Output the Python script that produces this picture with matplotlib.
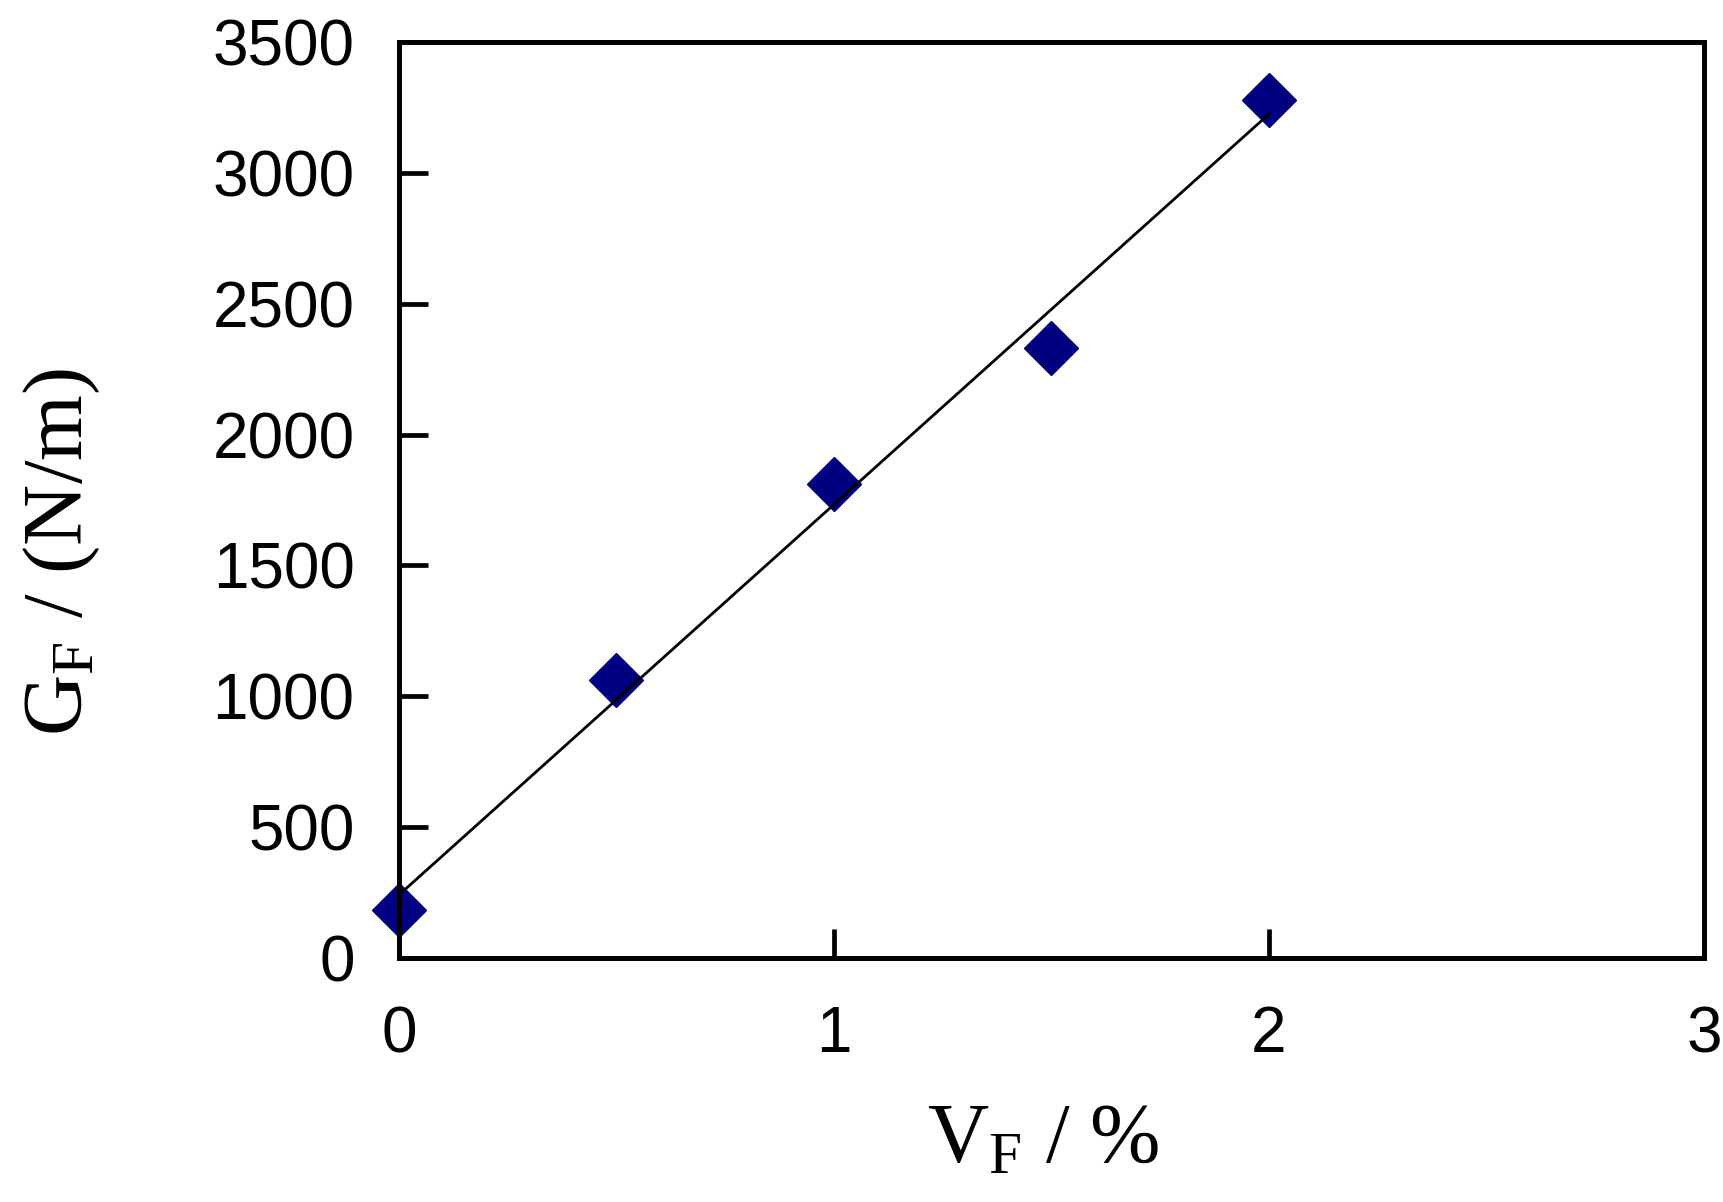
import numpy as np
import matplotlib.pyplot as plt

plt.rcParams['mathtext.fontset'] = 'custom'
plt.rcParams['mathtext.rm'] = 'Liberation Serif'
plt.rcParams['mathtext.it'] = 'Liberation Serif:italic'

vf = np.array([0.0, 0.5, 1.0, 1.5, 2.0])
gf = np.array([183, 1062, 1811, 2331, 3278])

xticks = [0, 1, 2, 3]
yticks = [0, 500, 1000, 1500, 2000, 2500, 3000, 3500]

fig = plt.figure(figsize=(17.24, 12.02), dpi=100)
ax = fig.add_axes([399 / 1724, 1 - 958 / 1202, 1305 / 1724, 916 / 1202])

ax.plot(vf, gf, linestyle='none', marker='D', markersize=27,
        color='#000080', clip_on=False, zorder=2)

# least squares line through the points
k, b = np.polyfit(vf, gf, 1)
xl = np.array([vf[0], vf[-1]])
ax.plot(xl, k * xl + b, color='black', linewidth=2, zorder=3)

ax.set_xlim(0, 3)
ax.set_ylim(0, 3500)
ax.set_xticks(xticks)
ax.set_yticks(yticks)

for s in ax.spines.values():
    s.set_linewidth(3.6)

ax.tick_params(axis='both', direction='in', length=21, width=3.4,
               labelsize=46, top=False, right=False)
ax.tick_params(axis='x', pad=34)
ax.tick_params(axis='y', pad=32)
for lab in ax.get_xticklabels() + ax.get_yticklabels():
    lab.set_family('Liberation Sans')

fig.text(1043 / 1724, 1 - 1162 / 1202, r'$\mathrm{V_F}$ / %',
         family='Liberation Serif', fontsize=61, ha='center', va='baseline')
fig.text(62 / 1724, 1 - 552 / 1202, r'$\mathrm{G_F}$ / (N/m)',
         family='Liberation Serif', fontsize=61, ha='center', va='center',
         rotation=90)

fig.savefig('out.png', dpi=100)
